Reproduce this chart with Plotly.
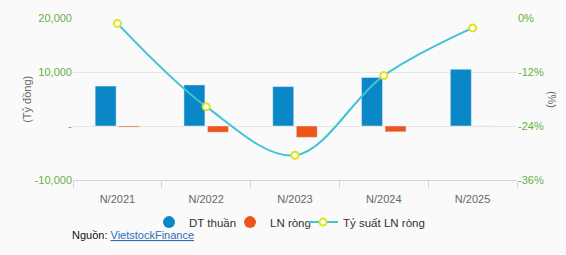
import plotly.graph_objects as go

categories = ["N/2021", "N/2022", "N/2023", "N/2024", "N/2025"]
dt_thuan = [7400, 7600, 7300, 9000, 10500]
ln_rong = [-200, -1150, -2100, -1080, -20]
ty_suat = [-1.2, -19.7, -30.5, -12.8, -2.2]

left_ticks = [-10000, 0, 10000, 20000]
left_labels = ["-10,000", "-", "10,000", "20,000"]
right_ticks = [-36, -24, -12, 0]
right_labels = ["-36%", "-24%", "-12%", "0%"]

BLUE = "#0a87c6"
ORANGE = "#ec561b"
LINE = "#3fc3d8"
YELLOW = "#e2e21c"
GREEN = "#6aaf45"
FONT = "Liberation Sans, Arial, sans-serif"

PL, PW = 73, 444


def px(p):
    return (p - PL) / PW


fig = go.Figure()
fig.add_trace(go.Bar(x=categories, y=dt_thuan, name="DT thuần", marker_color=BLUE,
                     showlegend=False, yaxis="y"))
fig.add_trace(go.Bar(x=categories, y=ln_rong, name="LN ròng", marker_color=ORANGE,
                     showlegend=False, yaxis="y"))
fig.add_trace(go.Scatter(x=categories, y=ty_suat, name="Tỷ suất LN ròng", yaxis="y2",
                         mode="lines+markers", line=dict(color=LINE, width=2, shape="spline", smoothing=1),
                         marker=dict(color="white", size=7, line=dict(color=YELLOW, width=2)),
                         showlegend=False))
# legend entries
fig.add_trace(go.Scatter(x=[None], y=[None], name="DT thuần", mode="markers", legend="legend",
                         marker=dict(color=BLUE, size=12, symbol="circle")))
fig.add_trace(go.Scatter(x=[None], y=[None], name="LN ròng", mode="markers", legend="legend2",
                         marker=dict(color=ORANGE, size=12, symbol="circle")))
fig.add_trace(go.Scatter(x=[None], y=[None], name="Tỷ suất LN ròng", mode="lines+markers", yaxis="y2",
                         legend="legend3", line=dict(color=LINE, width=2),
                         marker=dict(color="white", size=7, line=dict(color=YELLOW, width=2))))

leg_common = dict(orientation="h", yanchor="middle", y=-0.26, xanchor="left",
                  font=dict(size=11.5, color="#333333"), bgcolor="rgba(0,0,0,0)", itemwidth=30)

fig.update_layout(
    width=566, height=255,
    margin=dict(l=PL, r=566 - PL - PW, t=14, b=75),
    paper_bgcolor="#fafafa", plot_bgcolor="#fafafa",
    font=dict(family=FONT, size=11, color="#666666"),
    barmode="group", bargap=0.47, bargroupgap=0.11,
    xaxis=dict(showgrid=False, showline=True, linecolor="#ccd6eb", linewidth=1,
               ticks="outside", tickson="boundaries", ticklen=7, tickcolor="#ccd6eb",
               tickfont=dict(size=11, color="#666666"), ticklabelstandoff=9, fixedrange=True),
    yaxis=dict(range=[-10000, 20000], tickvals=left_ticks, ticktext=left_labels,
               showgrid=True, gridcolor="#e6e6e6", zeroline=False,
               tickfont=dict(size=11, color=GREEN), ticklabelstandoff=0),
    yaxis2=dict(range=[-36, 0], tickvals=right_ticks, ticktext=right_labels, overlaying="y",
                side="right", showgrid=False, zeroline=False,
                tickfont=dict(size=11, color=GREEN), ticklabelstandoff=0),
    legend=dict(leg_common, x=px(149)),
    legend2=dict(leg_common, x=px(230)),
    legend3=dict(leg_common, x=px(303)),
    annotations=[
        dict(text="(Tỷ đồng)", xref="paper", yref="paper", x=-0.104, y=0.5, textangle=-90,
             showarrow=False, font=dict(size=11, color="#666666"), xanchor="center", yanchor="middle"),
        dict(text="(%)", xref="paper", yref="paper", x=1.079, y=0.5, textangle=90,
             showarrow=False, font=dict(size=11, color="#666666"), xanchor="center", yanchor="middle"),
        dict(text="Nguồn: <a href='https://finance.vietstock.vn' style='color:#2a6ebb'><span style='text-decoration:underline'>VietstockFinance</span></a>",
             xref="paper", yref="paper", x=-0.007, y=-0.337, xanchor="left", yanchor="middle",
             showarrow=False, font=dict(size=11, color="#111111")),
    ],
)

fig.write_html("out.html")
